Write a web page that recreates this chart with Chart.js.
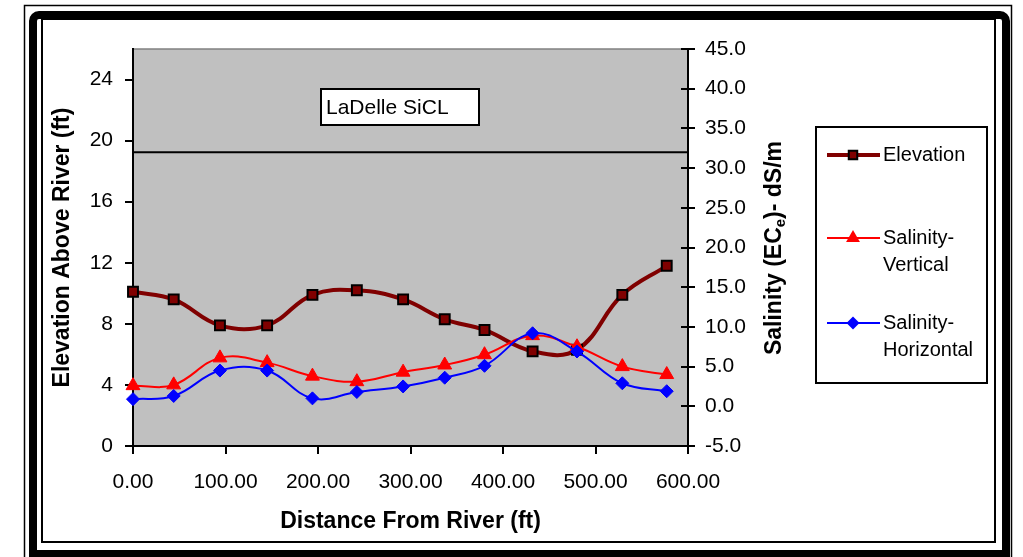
<!DOCTYPE html>
<html>
<head>
<meta charset="utf-8">
<script src="https://cdn.jsdelivr.net/npm/chart.js@4.4.0/dist/chart.umd.min.js"></script>
<style>
  html, body { margin: 0; padding: 0; background: #fff; }
  #wrap { width: 1023px; height: 557px; }
</style>
</head>
<body>
<div id="wrap"><canvas id="chart" width="1023" height="557"></canvas></div>
<script>
const distanceFt = [0, 44, 94, 145, 194, 242, 292, 337, 380, 432, 480, 529, 577];
const elevationFt = [10.1, 9.6, 7.9, 7.9, 9.9, 10.2, 9.6, 8.3, 7.6, 6.2, 6.3, 9.9, 11.8];
const salinityVertical = [2.6, 2.7, 6.1, 5.5, 3.8, 3.1, 4.3, 5.2, 6.5, 8.9, 7.5, 5.0, 4.0];
const salinityHorizontal = [0.9, 1.3, 4.5, 4.5, 1.0, 1.8, 2.5, 3.6, 5.1, 9.2, 6.9, 2.9, 1.9];
const thresholdX = [0, 600];
const thresholdY = [32, 32];
const seriesNames = ['Elevation', 'Salinity-Vertical', 'Salinity-Horizontal'];

const FONT = "'Liberation Sans', Arial, sans-serif";
const ELEV_COLOR = '#800000';

const pts = (xs, ys) => xs.map((x, i) => ({ x, y: ys[i] }));

function marker(ctx, style, x, y, r, fill, stroke, bw) {
  ctx.beginPath();
  if (style === 'rect') {
    const s = r * Math.SQRT1_2;
    ctx.rect(x - s, y - s, 2 * s, 2 * s);
  } else if (style === 'triangle') {
    ctx.moveTo(x, y - r);
    ctx.lineTo(x + r * Math.sin(2 * Math.PI / 3), y - r * Math.cos(2 * Math.PI / 3));
    ctx.lineTo(x + r * Math.sin(4 * Math.PI / 3), y - r * Math.cos(4 * Math.PI / 3));
    ctx.closePath();
  } else {
    ctx.moveTo(x - r, y); ctx.lineTo(x, y - r); ctx.lineTo(x + r, y); ctx.lineTo(x, y + r);
    ctx.closePath();
  }
  ctx.fillStyle = fill;
  ctx.fill();
  if (bw) { ctx.lineWidth = bw; ctx.strokeStyle = stroke; ctx.stroke(); }
}

const decor = {
  id: 'decor',
  beforeDraw(chart) {
    const { ctx, chartArea: a } = chart;
    ctx.save();
    ctx.fillStyle = '#fff';
    ctx.fillRect(0, 0, chart.width, chart.height);
    ctx.fillStyle = '#c0c0c0';
    ctx.fillRect(a.left, a.top, a.right - a.left, a.bottom - a.top);
    ctx.strokeStyle = '#808080';
    ctx.lineWidth = 1.5;
    ctx.beginPath(); ctx.moveTo(a.left, a.top); ctx.lineTo(a.right, a.top); ctx.stroke();
    ctx.restore();
  },
  beforeDatasetsDraw(chart) {
    const { ctx } = chart;
    ctx.save();
    // soil label box
    ctx.fillStyle = '#fff';
    ctx.fillRect(321, 89, 158, 36);
    ctx.strokeStyle = '#000';
    ctx.lineWidth = 2;
    ctx.strokeRect(321, 89, 158, 36);
    ctx.fillStyle = '#000';
    ctx.font = '21px ' + FONT;
    ctx.textBaseline = 'middle';
    ctx.fillText('LaDelle SiCL', 326, 108);
    ctx.restore();
  },
  afterDraw(chart) {
    const { ctx } = chart;
    ctx.save();
    ctx.strokeStyle = '#000';

    // inner part of right axis ticks
    const y2 = chart.scales.y2;
    ctx.lineWidth = 2;
    y2.ticks.forEach(t => {
      const py = Math.round(y2.getPixelForValue(t.value));
      ctx.beginPath(); ctx.moveTo(y2.left - 7, py); ctx.lineTo(y2.left, py); ctx.stroke();
    });

    // right axis title with subscript
    ctx.save();
    ctx.translate(775, 248);
    ctx.rotate(-Math.PI / 2);
    ctx.fillStyle = '#000';
    ctx.textBaseline = 'middle';
    const big = 'bold 23px ' + FONT, small = 'bold 15px ' + FONT;
    const p1 = 'Salinity (EC', p2 = 'e', p3 = ')- dS/m';
    ctx.font = big; const w1 = ctx.measureText(p1).width, w3 = ctx.measureText(p3).width;
    ctx.font = small; const w2 = ctx.measureText(p2).width;
    let x = -(w1 + w2 + w3) / 2;
    ctx.font = big; ctx.fillText(p1, x, 0); x += w1;
    ctx.font = small; ctx.fillText(p2, x, 6); x += w2;
    ctx.font = big; ctx.fillText(p3, x, 0);
    ctx.restore();

    // legend
    ctx.fillStyle = '#fff';
    ctx.fillRect(816, 127, 171, 256);
    ctx.lineWidth = 2;
    ctx.strokeRect(816, 127, 171, 256);
    ctx.font = '20px ' + FONT;
    ctx.textBaseline = 'middle';
    const items = [
      { y: 155, color: ELEV_COLOR, lw: 4, style: 'rect', r: 6, fill: ELEV_COLOR, stroke: '#000', bw: 2, text: ['Elevation'] },
      { y: 238, color: '#ff0000', lw: 2, style: 'triangle', r: 8, fill: '#ff0000', stroke: '#ff0000', bw: 0, text: ['Salinity-', 'Vertical'] },
      { y: 323, color: '#0000ff', lw: 2, style: 'rectRot', r: 6.5, fill: '#0000ff', stroke: '#0000ff', bw: 0, text: ['Salinity-', 'Horizontal'] }
    ];
    items.forEach(it => {
      ctx.strokeStyle = it.color;
      ctx.lineWidth = it.lw;
      ctx.beginPath(); ctx.moveTo(827, it.y); ctx.lineTo(880, it.y); ctx.stroke();
      marker(ctx, it.style, 853, it.y, it.r, it.fill, it.stroke, it.bw);
      ctx.fillStyle = '#000';
      it.text.forEach((t, i) => ctx.fillText(t, 883, it.y + i * 27));
    });

    // frame
    ctx.strokeStyle = '#000';
    ctx.lineWidth = 1.5;
    ctx.strokeRect(24.5, 5.5, 987, 570);
    ctx.lineWidth = 8;
    ctx.beginPath();
    ctx.roundRect(33, 15, 973, 539, [6, 6, 0, 0]);
    ctx.stroke();
    ctx.lineWidth = 2;
    ctx.strokeRect(42, 19, 953, 523);
    ctx.restore();
  }
};

new Chart(document.getElementById('chart'), {
  type: 'line',
  data: {
    datasets: [
      {
        label: seriesNames[0],
        data: pts(distanceFt, elevationFt),
        yAxisID: 'y',
        borderColor: ELEV_COLOR,
        borderWidth: 4,
        tension: 0.4,
        pointStyle: 'rect',
        pointRadius: 7,
        pointBackgroundColor: ELEV_COLOR,
        pointBorderColor: '#000',
        pointBorderWidth: 2,
        clip: false,
        order: 3
      },
      {
        label: seriesNames[1],
        data: pts(distanceFt, salinityVertical),
        yAxisID: 'y2',
        borderColor: '#ff0000',
        borderWidth: 2,
        tension: 0.4,
        pointStyle: 'triangle',
        pointRadius: 8,
        pointBackgroundColor: '#ff0000',
        pointBorderColor: '#ff0000',
        pointBorderWidth: 1,
        clip: false,
        order: 2
      },
      {
        label: seriesNames[2],
        data: pts(distanceFt, salinityHorizontal),
        yAxisID: 'y2',
        borderColor: '#0000ff',
        borderWidth: 2,
        tension: 0.4,
        pointStyle: 'rectRot',
        pointRadius: 6.5,
        pointBackgroundColor: '#0000ff',
        pointBorderColor: '#0000ff',
        pointBorderWidth: 1,
        clip: false,
        order: 1
      },
      {
        label: 'threshold',
        data: pts(thresholdX, thresholdY),
        yAxisID: 'y2',
        borderColor: '#000',
        borderWidth: 2,
        pointRadius: 0,
        order: 4
      }
    ]
  },
  options: {
    responsive: false,
    animation: false,
    events: [],
    layout: { padding: { top: 49, left: 0, right: 0, bottom: 0 } },
    plugins: { legend: { display: false }, tooltip: { enabled: false } },
    scales: {
      x: {
        type: 'linear',
        min: 0, max: 600,
        afterFit: s => { s.height = 111; },
        border: { display: true, color: '#000', width: 2 },
        grid: { drawOnChartArea: false, color: '#000', tickLength: 8, lineWidth: 2 },
        ticks: {
          stepSize: 100, color: '#000', padding: 16, maxRotation: 0,
          font: { family: FONT, size: 21 },
          callback: v => v.toFixed(2)
        },
        title: {
          display: true, text: 'Distance From River (ft)', color: '#000',
          font: { family: FONT, size: 23, weight: 'bold' },
          padding: { top: 0, bottom: 22 }
        }
      },
      y: {
        position: 'left',
        min: 0, max: 26,
        afterFit: s => { s.width = 133; },
        border: { display: true, color: '#000', width: 2 },
        grid: { drawOnChartArea: false, color: '#000', tickLength: 8, lineWidth: 2 },
        ticks: {
          stepSize: 4, includeBounds: false, color: '#000', padding: 12,
          font: { family: FONT, size: 21 }
        },
        title: {
          display: true, text: 'Elevation Above River (ft)', color: '#000',
          font: { family: FONT, size: 23, weight: 'bold' },
          padding: { top: 49, bottom: 0 }
        }
      },
      y2: {
        position: 'right',
        min: -5, max: 45,
        afterFit: s => { s.width = 335; },
        border: { display: true, color: '#000', width: 2 },
        grid: { drawOnChartArea: false, color: '#000', tickLength: 7, lineWidth: 2 },
        ticks: {
          stepSize: 5, color: '#000', padding: 10,
          font: { family: FONT, size: 21 },
          callback: v => v.toFixed(1)
        }
      }
    }
  },
  plugins: [decor]
});
</script>
</body>
</html>
